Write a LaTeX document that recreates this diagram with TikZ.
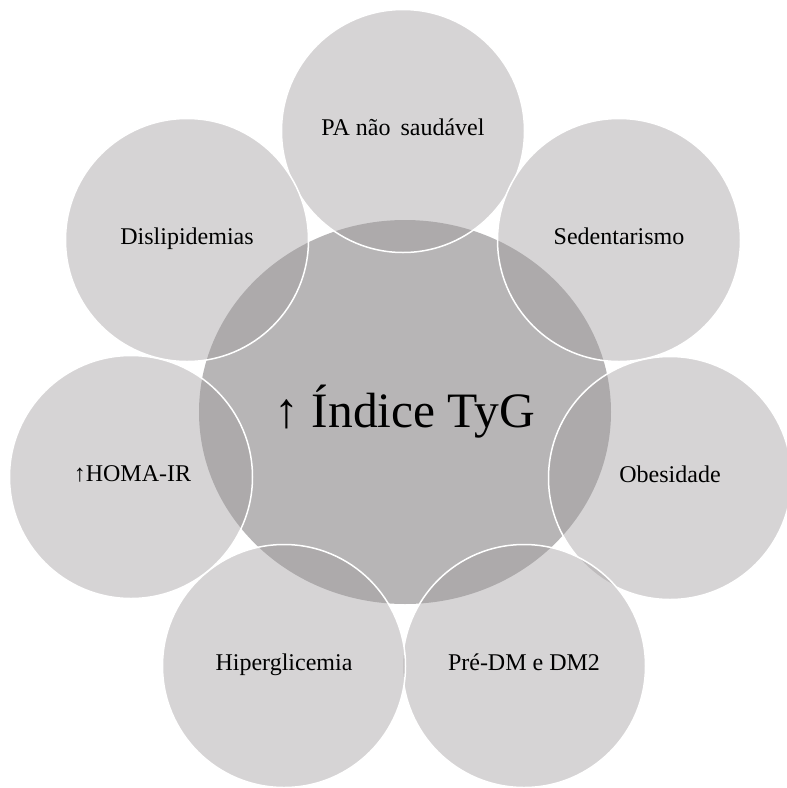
\documentclass[tikz,border=0pt]{standalone}
\usepackage{fontspec}
\setmainfont{Liberation Serif}
\usetikzlibrary{shapes.geometric}
\definecolor{centergray}{RGB}{183,181,182}
\definecolor{outergray}{RGB}{160,156,158}
\tikzset{
  {center blob/.style} ={ellipse,fill=centergray,inner sep=0,
                  minimum width=412pt, minimum height=384pt,
                  font=\fontsize{49.5}{52}\selectfont},
  {factor/.style} ={circle,fill=outergray,fill opacity=.43,text opacity=1,
                  draw=white,line width=1.5pt,inner sep=0,
                  text height=.8em,text depth=0em,
                  minimum size=243pt,font=\fontsize{24}{27}\selectfont},
}

\begin{document}
\begin{tikzpicture}[x=1pt,y=-1pt]
\useasboundingbox (0,0) rectangle (787,788);
\node[center blob] (tyg) at (405,412) {};
\node[factor] (pa) at (403,131) {PA não\, saudável};
\node[factor] (sedent) at (619,240) {Sedentarismo};
\node[factor] (obes) at (670,478) {Obesidade};
\node[factor] (predm) at (524,666) {Pré-DM e DM2};
\node[factor] (hiperg) at (284,666) {Hiperglicemia};
\node[factor] (homa) at (131,477) {\hspace*{3pt}↑HOMA-IR};
\node[factor] (dislip) at (187,240) {Dislipidemias};
\node[font=\fontsize{49.5}{52}\selectfont] at (tyg) {↑ Índice TyG};
\end{tikzpicture}
\end{document}
